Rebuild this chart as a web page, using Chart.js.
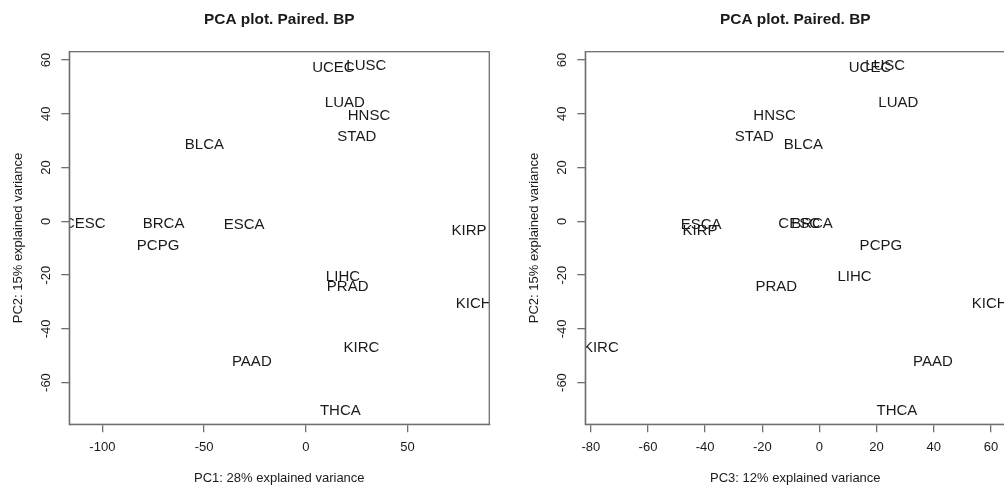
<!DOCTYPE html>
<html>
<head>
<meta charset="utf-8">
<title>PCA plot. Paired. BP</title>
<script src="https://cdn.jsdelivr.net/npm/chart.js@4/dist/chart.umd.min.js"></script>
<style>
  html, body { margin: 0; padding: 0; background: #fff; }
  body { width: 1004px; height: 489px; overflow: hidden; position: relative; }
  canvas { position: absolute; top: 0; }
  #pcaLeft { left: 0; }
  #pcaRight { left: 516px; }
</style>
</head>
<body>
<canvas id="pcaLeft" width="516" height="489"></canvas>
<canvas id="pcaRight" width="516" height="489"></canvas>
<script>
// TCGA cohorts, one label per sample group
const cancers = ["BLCA", "BRCA", "CESC", "ESCA", "HNSC", "KICH", "KIRC", "KIRP", "LIHC",
                 "LUAD", "LUSC", "PAAD", "PCPG", "PRAD", "STAD", "THCA", "UCEC"];
const pc1 = [-49.8, -69.9, -108.6, -30.3, 31.1, 82.6, 27.4, 80.3, 18.3,
             19.2, 29.8, -26.5, -72.6, 20.6, 25.1, 17.0, 13.6];
const pc2 = [28.3, -1.0, -1.0, -1.3, 39.1, -30.6, -47.2, -3.5, -20.7,
             44.0, 58.0, -52.2, -9.0, -24.4, 31.4, -70.4, 57.3];
const pc3 = [-5.6, -2.6, -7.1, -41.4, -15.7, 59.6, -76.5, -41.8, 12.3,
             27.6, 23.0, 39.7, 21.5, -15.1, -22.8, 27.1, 17.7];

const pc1Ticks = [-100, -50, 0, 50];
const pc3Ticks = [-80, -60, -40, -20, 0, 20, 40, 60];
const pc2Ticks = [-60, -40, -20, 0, 20, 40, 60];

const axisColor = "#707070";
const inkColor = "#1a1a1a";
Chart.defaults.font.family = "'Liberation Sans', Arial, Helvetica, sans-serif";
Chart.defaults.color = inkColor;

// same as R's default axis limits: data range padded by 4% on each side
function padRange(values) {
  const lo = Math.min(...values), hi = Math.max(...values);
  const pad = (hi - lo) * 0.04;
  return [lo - pad, hi + pad];
}

// sample names drawn at their coordinates, clipped to the plot box
const textLabels = {
  id: "textLabels",
  afterDatasetsDraw(chart) {
    const { ctx, chartArea } = chart;
    const meta = chart.getDatasetMeta(0);
    ctx.save();
    ctx.beginPath();
    ctx.rect(chartArea.left, chartArea.top, chartArea.right - chartArea.left, chartArea.bottom - chartArea.top);
    ctx.clip();
    ctx.font = "15px 'Liberation Sans', Arial, sans-serif";
    ctx.fillStyle = inkColor;
    ctx.textAlign = "center";
    ctx.textBaseline = "middle";
    meta.data.forEach((pt, i) => ctx.fillText(cancers[i], pt.x, pt.y));
    ctx.restore();
  }
};

// full box around the plotting region
const plotBox = {
  id: "plotBox",
  afterDraw(chart) {
    const { ctx, chartArea } = chart;
    ctx.save();
    ctx.strokeStyle = axisColor;
    ctx.lineWidth = 1.3;
    ctx.strokeRect(chartArea.left, chartArea.top, chartArea.right - chartArea.left, chartArea.bottom - chartArea.top);
    ctx.restore();
  }
};

function pcaChart(canvasId, xs, xTicks, xTitle) {
  const [xMin, xMax] = padRange(xs);
  const [yMin, yMax] = padRange(pc2);
  const points = xs.map((x, i) => ({ x: x, y: pc2[i] }));

  return new Chart(document.getElementById(canvasId), {
    type: "scatter",
    data: { datasets: [{ data: points, pointRadius: 0, pointHoverRadius: 0 }] },
    options: {
      responsive: false,
      animation: false,
      devicePixelRatio: 1,
      layout: { padding: { left: 0, right: 26.7, top: 0, bottom: 0 } },
      plugins: {
        legend: { display: false },
        tooltip: { enabled: false },
        title: {
          display: true,
          text: "PCA plot. Paired. BP",
          fullSize: false,
          color: inkColor,
          font: { size: 15.4, weight: "bold" },
          padding: { top: 10.8, bottom: 22.4 }
        }
      },
      scales: {
        x: {
          type: "linear",
          min: xMin,
          max: xMax,
          afterBuildTicks: (scale) => { scale.ticks = xTicks.map(v => ({ value: v })); },
          afterFit: (scale) => { scale.height = 64.7; },
          grid: { drawOnChartArea: false, drawTicks: true, tickLength: 8, color: axisColor, lineWidth: 1.3 },
          border: { display: true, color: axisColor, width: 1.3 },
          ticks: { font: { size: 13 }, color: inkColor, padding: 7.6, maxRotation: 0, autoSkip: false },
          title: { display: true, text: xTitle, font: { size: 13 }, color: inkColor, padding: { top: 0, bottom: 2.9 } }
        },
        y: {
          type: "linear",
          min: yMin,
          max: yMax,
          afterBuildTicks: (scale) => { scale.ticks = pc2Ticks.map(v => ({ value: v })); },
          afterFit: (scale) => { scale.width = 69.3; },
          grid: { drawOnChartArea: false, drawTicks: true, tickLength: 8, color: axisColor, lineWidth: 1.3 },
          border: { display: true, color: axisColor, width: 1.3 },
          ticks: { font: { size: 13 }, color: inkColor, padding: 5.2, minRotation: 90, maxRotation: 90,
                   crossAlign: "center", autoSkip: false },
          title: { display: true, text: "PC2: 15% explained variance", font: { size: 13 }, color: inkColor,
                   padding: { top: 10.5, bottom: 0 } }
        }
      }
    },
    plugins: [textLabels, plotBox]
  });
}

pcaChart("pcaLeft", pc1, pc1Ticks, "PC1: 28% explained variance");
pcaChart("pcaRight", pc3, pc3Ticks, "PC3: 12% explained variance");
</script>
</body>
</html>
